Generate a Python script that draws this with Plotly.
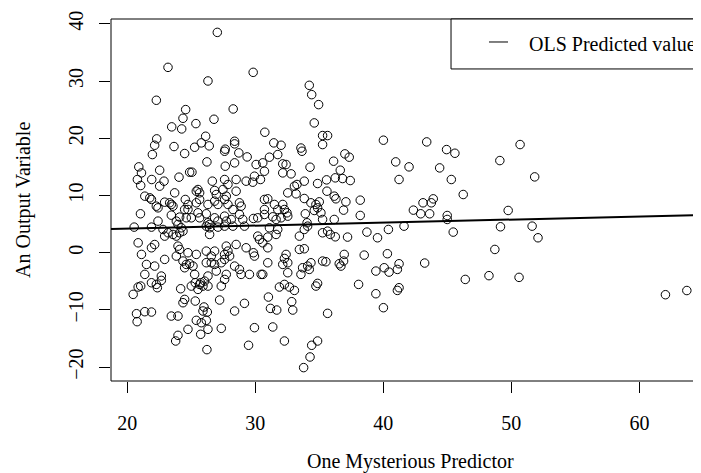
import plotly.graph_objects as go

# ---- data ----
predictor = [
    27.04, 23.19, 29.84, 26.31, 22.28, 24.57, 28.28, 24.36, 26.78, 25.37, 23.48, 24.26, 30.75, 22.31, 26.13,
    22.15, 23.66, 25.79, 25.27, 26.41, 27.66, 28.39, 28.39,
    21.97, 24.49, 26.23, 27.61, 28.72, 29.37, 28.39, 27.66, 30.07, 30.59, 30.72, 20.91, 21.12, 22.54, 20.8,
    21.92, 21.06, 22.88, 22.54, 24.05, 24.88, 25.06, 26.65, 27.61, 27.87, 28.51, 29.29, 29.94, 29.81, 30.41,
    25.53, 25.4, 25.66, 26.83, 26.96, 27.48, 27.74, 28.51, 23.71, 21.38, 21.77, 21.9, 22.41, 22.28, 22.93,
    23.32, 23.58, 23.45, 24.54, 24.75, 24.49, 24.75, 25.4, 25.66, 26.31, 26.83, 27.09, 27.61, 27.87, 28.77,
    28.9, 28.26, 30.72, 30.72, 21.04, 22.41, 23.45, 24.1, 23.84, 24.62, 25.01, 25.53, 25.66, 26.18, 26.31,
    26.44, 26.83, 27.09, 27.61, 27.74, 28.13, 28.77, 29.03, 29.86, 30.2, 30.72, 20.55, 21.9, 22.8, 23.2,
    23.58, 23.97, 24.23, 24.1, 24.36, 23.84, 26.18, 26.44, 27.09, 27.61, 28.26, 29.16, 30.2, 30.33, 26.44,
    22.93, 20.86, 21.9, 22.15, 21.12, 22.93, 23.97, 24.1, 23.84, 24.75, 25.4, 26.18, 26.83, 26.57, 27.74,
    27.87, 27.61, 28.0, 28.51, 29.29, 29.86, 29.94, 30.59, 21.51, 22.15, 24.36, 24.62, 24.88, 25.14, 24.49,
    26.18, 26.57, 26.83, 27.35, 27.61, 28.39, 28.77, 25.27, 26.31, 26.96, 27.74, 28.9, 29.55, 30.46, 22.67,
    21.38,
    20.47, 20.86, 21.06, 21.9, 22.28, 22.67, 22.36, 24.18, 25.01, 25.32, 25.53, 25.74, 26.05, 25.92, 26.31,
    25.66, 27.35, 27.61, 24.49, 24.36, 25.32, 26.0, 26.26, 25.92, 27.22, 29.16, 28.39, 20.73, 21.38, 21.9,
    20.78, 23.45, 23.97, 25.4, 25.79, 26.18, 24.75, 26.31, 25.74, 27.35, 29.94, 23.97, 23.79, 26.23, 29.48,
    34.22, 34.41, 34.95, 34.61, 35.26, 35.65, 35.26, 31.45, 32.02, 40.01, 33.57,
    33.65, 31.76, 31.11, 32.15, 32.41, 32.15, 32.8, 34.28, 36.12, 37.0, 37.34, 36.64, 36.25, 36.82, 37.42,
    35.57, 34.87, 33.83, 33.06, 33.26, 32.54, 33.19, 33.83, 35.6, 36.17, 36.3, 37.08, 38.2, 30.98, 31.5,
    31.76, 32.15, 32.28, 31.37, 31.63, 32.02, 32.54, 32.48, 34.35, 34.74, 35.0, 34.87, 34.61, 33.91, 35.13,
    36.9, 38.2, 36.17, 35.26, 34.05, 34.09, 33.83, 30.98, 31.63, 31.11, 31.76, 33.45, 35.26, 35.65, 35.86,
    36.25, 37.21, 38.72, 39.55, 40.4, 41.62, 40.97, 41.23, 30.98, 30.98, 33.45, 33.83, 32.41, 32.28, 32.54,
    32.15, 34.35, 34.09, 33.7, 34.22, 35.26, 35.52, 36.56, 36.95, 36.9, 36.69, 38.51, 40.32, 39.42, 40.07,
    40.45, 41.23, 41.1, 30.59, 32.54, 33.57,
    38.07, 39.42, 40.01, 41.1, 41.23, 34.74, 34.87, 31.89, 32.28, 32.67, 33.06, 31.03, 31.19, 31.68, 32.85,
    32.93, 35.65, 31.37, 32.28, 34.41, 34.87, 34.28, 33.78,
    43.39, 44.94, 45.59, 50.68, 42.01, 44.4, 45.31, 49.1, 51.82, 46.24, 42.35, 42.92, 43.62, 43.1, 43.75,
    43.9, 44.99, 44.99, 49.75, 45.46, 49.15, 51.62, 52.08, 48.71, 43.23, 46.4, 48.25, 50.6,
    62.03, 63.7,
]

output = [
    38.51, 32.40, 31.53, 30.02, 26.65, 25.02, 25.13, 23.50, 23.33, 22.57, 22.0, 21.64, 21.06, 19.9, 20.36,
    18.79, 18.56, 19.2, 18.44, 18.68, 18.1, 19.49, 19.03,
    17.16, 17.34, 15.88, 17.74, 17.45, 16.75, 15.71, 15.13, 15.42, 15.71, 14.25, 15.01, 13.96, 14.43, 12.8,
    12.8, 11.75, 12.51, 11.64, 13.21, 14.08, 14.08, 12.51, 12.80, 11.93, 12.80, 12.51, 13.38, 12.33, 12.80,
    11.05, 10.76, 10.47, 10.88, 10.18, 11.05, 9.89, 10.76, 10.47, 9.89, 9.6, 9.31, 7.85, 8.14, 8.84,
    8.73, 8.14, 8.44, 9.31, 8.44, 7.56, 7.56, 8.73, 9.31, 8.44, 9.02, 8.44, 9.31, 8.44, 8.73,
    8.14, 7.56, 9.31, 7.56, 6.81, 5.53, 6.57, 6.23, 5.53, 6.11, 6.11, 6.98, 6.11, 6.81, 5.24,
    4.95, 6.11, 5.53, 6.4, 5.53, 5.82, 6.69, 5.82, 5.99, 6.11, 6.69, 4.48, 4.48, 4.07, 3.49,
    3.2, 4.95, 4.36, 3.49, 3.78, 2.91, 4.65, 4.36, 4.48, 4.65, 4.65, 4.65, 2.91, 2.33, 3.2,
    2.91, 1.74, 0.87, 1.44, -0.29, -1.16, 1.16, 0.58, -0.58, 0.0, -0.29, 0.29, 0.29, -0.58, 1.16,
    0.29, -0.29, -0.58, 1.45, 0.87, 0.0, -0.58, 1.74, -2.04, -2.33, -1.45, -2.04, -1.92, -2.33, -2.62,
    -1.74, -1.74, -2.04, -1.74, -1.16, -2.33, -2.91, -3.78, -4.07, -3.2, -3.78, -3.78, -3.78, -3.78, -4.07,
    -3.78,
    -7.27, -5.99, -5.82, -5.24, -5.53, -4.83, -6.11, -6.29, -5.82, -5.24, -6.4, -5.24, -4.95, -5.82, -5.82,
    -5.53, -5.82, -4.66, -8.15, -8.73, -8.44, -9.48, -10.36, -10.18, -8.26, -8.84, -10.18, -10.65, -10.3, -10.36,
    -12.04, -11.06, -11.06, -11.81, -12.22, -11.81, -13.38, -13.38, -14.25, -13.21, -13.09, -14.43, -15.42, -16.93, -16.17,
    29.26, 27.63, 25.89, 22.69, 20.48, 20.48, 18.91, 19.2, 18.79, 19.67, 18.3,
    17.74, 17.16, 16.7, 15.53, 15.42, 13.96, 13.79, 14.95, 16.0, 17.28, 16.7, 14.43, 13.09, 12.97, 12.62,
    12.74, 12.1, 12.51, 11.64, 11.93, 10.47, 10.3, 9.48, 10.76, 9.89, 9.43, 8.9, 9.19, 9.43, 8.44,
    7.56, 8.44, 7.56, 6.28, 5.82, 6.11, 6.4, 6.98, 8.73, 8.44, 8.9, 7.85, 7.39, 6.81, 6.98,
    7.45, 6.52, 5.82, 5.82, 5.24, 4.65, 4.07, 2.74, 3.2, 4.36, 4.07, 2.91, 3.49, 3.78, 3.2,
    2.79, 2.74, 3.61, 2.62, 4.07, 4.65, 15.88, 12.8, 0.87, -1.75, 0.58, 0.7, -0.29, -0.99, -1.75,
    -2.04, -1.75, -2.33, -2.62, -2.91, -1.45, -1.57, -1.92, -0.29, -1.45, -2.33, -0.41, -0.17, -3.2, -2.62,
    -3.38, -1.92, -2.91, -3.78, -3.49, -3.78,
    -5.53, -7.16, -9.6, -6.58, -6.11, -5.82, -5.35, -5.99, -5.53, -5.99, -6.58, -7.74, -9.72, -10.01, -8.55,
    -10.01, -10.59, -12.97, -15.42, -16.17, -15.42, -18.21, -20.07,
    19.37, 18.03, 17.39, 18.91, 15.01, 14.83, 12.8, 16.11, 13.26, 10.18, 7.45, 6.81, 6.81, 8.73, 8.73,
    9.42, 6.51, 5.82, 7.39, 3.61, 4.54, 4.65, 2.62, 0.58, -1.8, -4.66, -4.0, -4.3,
    -7.33, -6.6,
]

x_ticks = [20, 30, 40, 50, 60]
y_ticks = [-20, -10, 0, 10, 20, 30, 40]
x_range = [18.74, 65.43]
y_range = [-22.41, 40.85]

ols_intercept = 3.15
ols_slope = 0.053

x_title = "One Mysterious Predictor"
y_title = "An Output Variable"
legend_label = "OLS Predicted value"

FONT = "Liberation Serif"

fig = go.Figure()
fig.add_trace(go.Scatter(
    x=predictor, y=output, mode="markers",
    marker=dict(symbol="circle-open", size=8.5, color="black", line=dict(width=1, color="black")),
    showlegend=False, hoverinfo="skip",
))
line_x = list(x_range)
line_y = [ols_intercept + ols_slope * v for v in line_x]
fig.add_trace(go.Scatter(
    x=line_x, y=line_y, mode="lines",
    line=dict(color="black", width=2),
    showlegend=False, hoverinfo="skip",
))

axis_common = dict(
    showgrid=False, zeroline=False, showline=False,
    ticks="outside", ticklen=11, tickwidth=1, tickcolor="black",
    tickfont=dict(family=FONT, size=20, color="black"),
)
fig.update_xaxes(range=x_range, tickvals=x_ticks, ticktext=[str(v) for v in x_ticks],
                 ticklabelstandoff=13, **axis_common)
fig.update_yaxes(range=y_range, tickvals=y_ticks,
                 ticktext=[str(v).replace("-", "\u2212") for v in y_ticks],
                 tickangle=-90, ticklabelstandoff=8, **axis_common)

shapes = [
    dict(type="rect", xref="paper", yref="paper", x0=0, x1=1, y0=0, y1=1,
         line=dict(color="black", width=1), layer="above"),
    dict(type="rect", xref="paper", yref="paper", x0=0.5686, x1=1.0, y0=0.862, y1=1.0,
         line=dict(color="black", width=1), fillcolor="white", layer="above"),
    dict(type="line", xref="paper", yref="paper", x0=0.6321, x1=0.6639, y0=0.9365, y1=0.9365,
         line=dict(color="black", width=1), layer="above"),
]
annotations = [
    dict(text=legend_label, xref="paper", yref="paper", x=0.6957, y=0.931,
         xanchor="left", yanchor="middle", showarrow=False,
         font=dict(family=FONT, size=20, color="black")),
    dict(text=x_title, xref="paper", yref="paper", x=0.5, y=-0.2237,
         xanchor="center", yanchor="middle", showarrow=False,
         font=dict(family=FONT, size=20, color="black")),
    dict(text=y_title, xref="paper", yref="paper", x=-0.1472, y=0.5,
         xanchor="center", yanchor="middle", textangle=-90, showarrow=False,
         font=dict(family=FONT, size=20, color="black")),
]

fig.update_layout(
    width=701, height=473,
    margin=dict(l=103, r=0, t=11, b=100),
    plot_bgcolor="white", paper_bgcolor="white",
    shapes=shapes, annotations=annotations,
    showlegend=False,
)

fig.write_html("out.html")
